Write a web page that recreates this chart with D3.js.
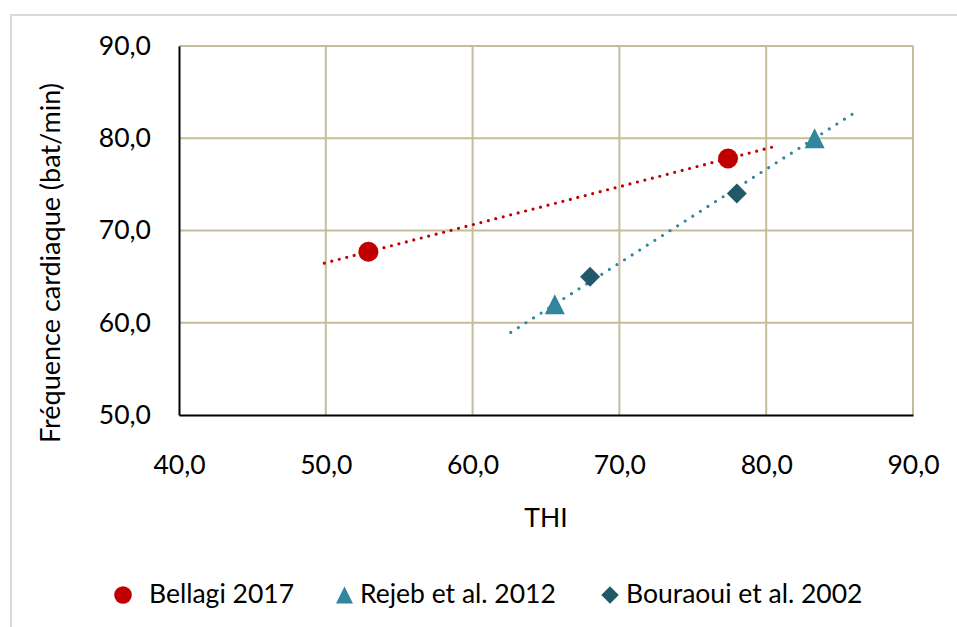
<!DOCTYPE html>
<html>
<head>
<meta charset="utf-8">
<script src="https://cdnjs.cloudflare.com/ajax/libs/d3/7.8.5/d3.min.js"></script>
<style>
  body { margin: 0; background: #fff; }
  svg text { font-family: Lato, "Open Sans", sans-serif; fill: #000; }
</style>
</head>
<body>
<div id="chart"></div>
<script>
/* data */
var seriesNames = ["Bellagi 2017", "Rejeb et al. 2012", "Bouraoui et al. 2002"];
var bellagiTHI = [52.9, 77.4],
    bellagiHR  = [67.7, 77.8];
var rejebTHI = [65.6, 83.3],
    rejebHR  = [62.0, 80.0];
var bouraouiTHI = [68.0, 78.0],
    bouraouiHR  = [65.0, 74.0];
var xTicks = [40, 50, 60, 70, 80, 90],
    yTicks = [50, 60, 70, 80, 90];
var trendForecast = 3; // forward / backward, in THI units

var W = 957, H = 627;
var margin = {top: 46, right: 44, bottom: 212, left: 179};
var width = W - margin.left - margin.right,
    height = H - margin.top - margin.bottom;

var gridColor = "#C4BD97";
var colors = ["#C00000", "#31859C", "#215968"];

var svg = d3.select("#chart").append("svg")
    .attr("width", W)
    .attr("height", H);

// chart frame (only left and top edges show)
svg.append("path")
    .attr("d", "M11," + H + "V15H" + W)
    .attr("fill", "none")
    .attr("stroke", "#D9D9D9")
    .attr("stroke-width", 2);

var x = d3.scaleLinear().domain([40, 90]).range([0, width]);
var y = d3.scaleLinear().domain([50, 90]).range([height, 0]);

var g = svg.append("g")
    .attr("transform", "translate(" + margin.left + "," + margin.top + ")");

// gridlines
g.append("g").selectAll("line").data(xTicks.slice(1)).join("line")
    .attr("x1", function(d) { return x(d); })
    .attr("x2", function(d) { return x(d); })
    .attr("y1", 0).attr("y2", height)
    .attr("stroke", gridColor).attr("stroke-width", 2);
g.append("g").selectAll("line").data(yTicks.slice(1)).join("line")
    .attr("y1", function(d) { return y(d); })
    .attr("y2", function(d) { return y(d); })
    .attr("x1", 0).attr("x2", width)
    .attr("stroke", gridColor).attr("stroke-width", 2);

// axes
var fmt = function(d) { return d3.format(".1f")(d).replace(".", ","); };

var xAxis = g.append("g")
    .attr("transform", "translate(0," + height + ")")
    .call(d3.axisBottom(x).tickValues(xTicks).tickFormat(fmt).tickSize(0).tickPadding(40));
var yAxis = g.append("g")
    .call(d3.axisLeft(y).tickValues(yTicks).tickFormat(fmt).tickSize(0).tickPadding(28));

[xAxis, yAxis].forEach(function(a) {
  a.select(".domain").attr("stroke", "#000").attr("stroke-width", 2);
  a.selectAll("text").style("font-size", "26.5px").attr("fill", "#000");
});

// axis titles
svg.append("text")
    .attr("x", margin.left + width / 2)
    .attr("y", 527)
    .attr("text-anchor", "middle")
    .style("font-size", "26.5px")
    .text("THI");
svg.append("text")
    .attr("transform", "translate(60,263) rotate(-90)")
    .attr("text-anchor", "middle")
    .style("font-size", "27px")
    .text("Fréquence cardiaque (bat/min)");

// linear trend (least squares), extended like the spreadsheet forecast
function trend(xs, ys) {
  var mx = d3.mean(xs), my = d3.mean(ys);
  var sxy = d3.sum(xs, function(v, i) { return (v - mx) * (ys[i] - my); });
  var sxx = d3.sum(xs, function(v) { return (v - mx) * (v - mx); });
  var b = sxy / sxx, a = my - b * mx;
  var x0 = d3.min(xs) - trendForecast, x1 = d3.max(xs) + trendForecast;
  return [{t: x0, h: a + b * x0}, {t: x1, h: a + b * x1}];
}

var line = d3.line()
    .x(function(d) { return x(d.t); })
    .y(function(d) { return y(d.h); });

g.append("path")
    .datum(trend(bellagiTHI, bellagiHR))
    .attr("d", line)
    .attr("fill", "none")
    .attr("stroke", colors[0])
    .attr("stroke-width", 3.2)
    .attr("stroke-linecap", "round")
    .attr("stroke-dasharray", "0 7.7");

g.append("path")
    .datum(trend(rejebTHI, rejebHR))
    .attr("d", line)
    .attr("fill", "none")
    .attr("stroke", colors[1])
    .attr("stroke-width", 3.2)
    .attr("stroke-linecap", "round")
    .attr("stroke-dasharray", "0 9");

// markers
var symCircle = d3.symbol().type(d3.symbolCircle).size(Math.PI * 100);
var symTri = function(s) {
  var w = s, h = s;
  return "M0," + (-h / 2) + "L" + (w / 2) + "," + (h / 2) + "L" + (-w / 2) + "," + (h / 2) + "Z";
};
var symDiamond = function(s) {
  var r = s / 2;
  return "M0," + (-r) + "L" + r + ",0L0," + r + "L" + (-r) + ",0Z";
};

function points(xs, ys) {
  return xs.map(function(v, i) { return {t: v, h: ys[i]}; });
}

g.append("g").selectAll("path").data(points(bellagiTHI, bellagiHR)).join("path")
    .attr("transform", function(d) { return "translate(" + x(d.t) + "," + y(d.h) + ")"; })
    .attr("d", symCircle)
    .attr("fill", colors[0]);

g.append("g").selectAll("path").data(points(rejebTHI, rejebHR)).join("path")
    .attr("transform", function(d) { return "translate(" + x(d.t) + "," + y(d.h) + ")"; })
    .attr("d", symTri(20))
    .attr("fill", colors[1]);

g.append("g").selectAll("path").data(points(bouraouiTHI, bouraouiHR)).join("path")
    .attr("transform", function(d) { return "translate(" + x(d.t) + "," + y(d.h) + ")"; })
    .attr("d", symDiamond(20))
    .attr("fill", colors[2]);

// legend
var legendX = [123, 344.5, 610],
    legendTextX = [149, 360, 626],
    legendY = 595;
var legendSym = [
  d3.symbol().type(d3.symbolCircle).size(Math.PI * 78)(),
  symTri(17),
  symDiamond(17.5)
];

var legend = svg.append("g").selectAll("g").data(seriesNames).join("g");
legend.append("path")
    .attr("transform", function(d, i) { return "translate(" + legendX[i] + "," + legendY + ")"; })
    .attr("d", function(d, i) { return legendSym[i]; })
    .attr("fill", function(d, i) { return colors[i]; });
legend.append("text")
    .attr("x", function(d, i) { return legendTextX[i]; })
    .attr("y", 603)
    .style("font-size", "26.5px")
    .text(function(d) { return d; });
</script>
</body>
</html>
